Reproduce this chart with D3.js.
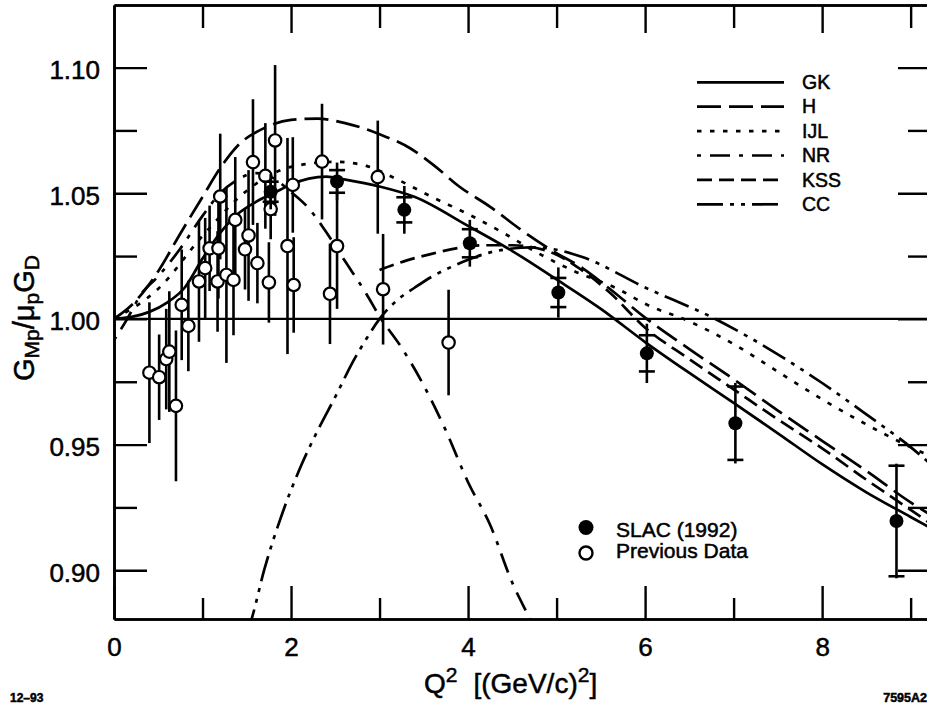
<!DOCTYPE html>
<html>
<head>
<meta charset="utf-8">
<script src="https://cdn.jsdelivr.net/npm/d3@7"></script>
<style>
  body { margin: 0; background: #fff; }
  svg { display: block; }
  text { font-family: "Liberation Sans", Arial, Helvetica, sans-serif; fill: #000; stroke: #000; stroke-width: 0.5px; }
</style>
</head>
<body>
<svg id="chart" width="927" height="710"></svg>
<script>
// ---- SLAC (1992) points: Q^2, ratio, statistical and total errors ----
const slacQ    = [1.77, 2.52, 3.28, 4.02, 5.02, 6.02, 7.02, 8.84];
const slacV    = [1.0506, 1.0547, 1.0434, 1.0301, 1.0105, 0.9863, 0.9585, 0.9196];
const slacStat = [0.0040, 0.0045, 0.0050, 0.0056, 0.0058, 0.0072, 0.0146, 0.0220];
const slacTot  = [0.0070, 0.0075, 0.0095, 0.0093, 0.0100, 0.0118, 0.0160, 0.0228];

// ---- Previous data ----
const prevQ   = [0.40, 0.51, 0.59, 0.625, 0.70, 0.765, 0.84, 0.96, 1.03, 1.08, 1.17, 1.18, 1.20, 1.27,
                 1.35, 1.37, 1.48, 1.52, 1.57, 1.62, 1.71, 1.75, 1.77, 1.82, 1.96, 2.02, 2.03, 2.35,
                 2.44, 2.52, 2.98, 3.04, 3.78];
const prevV   = [0.9786, 0.9768, 0.9840, 0.9870, 0.9654, 1.0056, 0.9972, 1.0149, 1.0202, 1.0281, 1.0149, 1.0281, 1.0487, 1.0175,
                 1.0155, 1.0394, 1.0277, 1.0332, 1.0624, 1.0222, 1.0569, 1.0145, 1.0437, 1.0710, 1.0290, 1.0533, 1.0135, 1.0626,
                 1.0100, 1.0290, 1.0564, 1.0118, 0.9906];
const prevErr = [0.028, 0.017, 0.020, 0.024, 0.030, 0.022, 0.018, 0.024, 0.020, 0.017, 0.020, 0.020, 0.025, 0.035,
                 0.022, 0.025, 0.016, 0.026, 0.025, 0.016, 0.021, 0.016, 0.012, 0.030, 0.043, 0.019, 0.019, 0.023,
                 0.020, 0.025, 0.0225, 0.022, 0.021];

// ---- Model curves ----
const gkQ = [0, 0.2, 0.4, 0.6, 0.8, 1.0, 1.2, 1.4, 1.6, 1.8, 2.0, 2.2, 2.4, 2.6, 3.0, 3.4, 4.0, 4.5, 5.0, 5.5, 6.0, 6.5, 7.0, 7.5, 8.0, 8.5, 9.0, 9.25];
const gkV = [1.0000, 1.0008, 1.0028, 1.0065, 1.0125, 1.0240, 1.0342, 1.0418, 1.0465, 1.0500, 1.0535, 1.0558, 1.0566, 1.0555,
             1.0527, 1.0485, 1.0370, 1.0270, 1.0157, 1.0040, 0.9908, 0.9785, 0.9666, 0.9545, 0.9422, 0.9310, 0.9212, 0.9163];

const hQ = [0, 0.2, 0.5, 0.75, 1.0, 1.2, 1.4, 1.7, 2.0, 2.3, 2.6, 3.0, 3.35, 3.6, 3.9, 4.25, 4.6, 4.95, 5.3, 5.6, 6.0, 6.5, 7.0, 7.5, 8.0, 8.5, 9.0, 9.25];
const hV = [1.0000, 1.0055, 1.0190, 1.0340, 1.0485, 1.0600, 1.0690, 1.0760, 1.0792, 1.0797, 1.0780, 1.0735, 1.0678, 1.0615,
            1.0527, 1.0446, 1.0354, 1.0272, 1.0200, 1.0120, 1.0005, 0.9880, 0.9760, 0.9635, 0.9515, 0.9395, 0.9270, 0.9215];

const ijlQ = [0, 0.5, 1.0, 1.5, 2.0, 2.5, 2.86, 3.2, 3.6, 4.0, 4.4, 4.8, 5.2, 5.7, 6.0, 6.5, 7.0, 7.5, 8.0, 8.5, 9.0, 9.25];
const ijlV = [1.0000, 1.0120, 1.0330, 1.0510, 1.0605, 1.0625, 1.0608, 1.0555, 1.0484, 1.0417, 1.0342, 1.0260, 1.0190, 1.0118,
              1.0060, 0.9990, 0.9900, 0.9790, 0.9680, 0.9580, 0.9490, 0.9450];

const nrQ = [0, 0.15, 0.3, 0.5, 0.75, 1.0, 1.2, 1.4, 1.6, 1.8, 2.0, 2.2, 2.35, 2.6, 2.85, 3.0, 3.25, 3.5, 3.75, 4.0, 4.25, 4.5, 4.7, 4.75];
const nrV = [0.9916, 1.0000, 1.0095, 1.0170, 1.0280, 1.0410, 1.0500, 1.0555, 1.0580, 1.0560, 1.0505, 1.0440, 1.0370, 1.0235,
             1.0100, 1.0010, 0.9885, 0.9735, 0.9555, 0.9350, 0.9180, 0.8950, 0.8806, 0.8770];

const kssQ = [3.0, 3.3, 3.6, 3.9, 4.2, 4.5, 4.9, 5.3, 5.6, 6.0, 6.5, 7.0, 7.5, 8.0, 8.5, 9.0, 9.25];
const kssV = [1.0195, 1.0232, 1.0260, 1.0283, 1.0293, 1.0293, 1.0270, 1.0190, 1.0105, 0.9965, 0.9840, 0.9720, 0.9600,
              0.9485, 0.9360, 0.9240, 0.9180];

const ccQ = [1.5, 1.55, 1.7, 1.9, 2.1, 2.3, 2.5, 2.7, 2.85, 3.0, 3.2, 3.4, 3.6, 3.8, 4.0, 4.2, 4.45, 4.7, 5.0, 5.3, 6.0, 6.77, 7.6, 8.0, 8.5, 9.0, 9.25];
const ccV = [0.8745, 0.8800, 0.9005, 0.9225, 0.9405, 0.9555, 0.9690, 0.9830, 0.9920, 1.0000, 1.0075, 1.0125, 1.0170, 1.0205,
             1.0235, 1.0260, 1.0278, 1.0285, 1.0275, 1.0245, 1.0125, 1.0004, 0.9837, 0.9745, 0.9620, 0.9490, 0.9415];

// ---- Axis ticks ----
const xMajor = [0, 2, 4, 6, 8];
const xMinor = [1, 3, 5, 7, 9];
const yMajor = [0.90, 0.95, 1.00, 1.05, 1.10];
const yMinor = [0.925, 0.975, 1.025, 1.075];

const modelNames = ["GK", "H", "IJL", "NR", "KSS", "CC"];

// ---- Layout ----
const svg = d3.select("#chart");
const plotL = 114, plotR = 931, plotT = 5, plotB = 619;

const x = d3.scaleLinear().domain([0, 9.23]).range([plotL, plotR]);
const y = d3.scaleLinear().domain([0.8806, 1.1249]).range([plotB, plotT]);

const models = [
  { name: "GK",  q: gkQ,  v: gkV,  dash: null },
  { name: "H",   q: hQ,   v: hV,   dash: "24,8" },
  { name: "IJL", q: ijlQ, v: ijlV, dash: "4.5,8.5" },
  { name: "NR",  q: nrQ,  v: nrV,  dash: "4,9,20,9" },
  { name: "KSS", q: kssQ, v: kssV, dash: "15,7" },
  { name: "CC",  q: ccQ,  v: ccV,  dash: "26,7,4,7,4,7" }
];

svg.append("defs").append("clipPath").attr("id", "plot-clip")
  .append("rect").attr("x", plotL).attr("y", plotT).attr("width", plotR - plotL).attr("height", plotB - plotT);

// reference line at unity
svg.append("line")
  .attr("x1", x(0)).attr("x2", x(9.23))
  .attr("y1", y(1)).attr("y2", y(1))
  .attr("stroke", "#000").attr("stroke-width", 2.2);

// model curves
const line = d3.line()
  .x(d => x(d[0])).y(d => y(d[1]))
  .curve(d3.curveMonotoneX);

const curveG = svg.append("g").attr("clip-path", "url(#plot-clip)");
models.forEach(m => {
  const pts = m.q.map((q, i) => [q, m.v[i]]);
  curveG.append("path")
    .datum(pts)
    .attr("d", line)
    .attr("fill", "none")
    .attr("stroke", "#000")
    .attr("stroke-width", 2.7)
    .attr("stroke-dasharray", m.dash);
});

// previous data: error bars then open circles
const prev = prevQ.map((q, i) => ({ q, v: prevV[i], e: prevErr[i] }));
const prevG = svg.append("g").attr("clip-path", "url(#plot-clip)");
prevG.selectAll("line.err").data(prev).join("line")
  .attr("class", "err")
  .attr("x1", d => x(d.q)).attr("x2", d => x(d.q))
  .attr("y1", d => y(d.v + d.e)).attr("y2", d => y(d.v - d.e))
  .attr("stroke", "#000").attr("stroke-width", 2.6);

// SLAC error bars with caps at the statistical error
const slac = slacQ.map((q, i) => ({ q, v: slacV[i], s: slacStat[i], t: slacTot[i] }));
const slacG = svg.append("g");
slacG.selectAll("line.tot").data(slac).join("line")
  .attr("class", "tot")
  .attr("x1", d => x(d.q)).attr("x2", d => x(d.q))
  .attr("y1", d => y(d.v + d.t)).attr("y2", d => y(d.v - d.t))
  .attr("stroke", "#000").attr("stroke-width", 2.6);
["up", "down"].forEach(side => {
  slacG.selectAll("line.cap-" + side).data(slac).join("line")
    .attr("class", "cap-" + side)
    .attr("x1", d => x(d.q) - 8).attr("x2", d => x(d.q) + 8)
    .attr("y1", d => y(side === "up" ? d.v + d.s : d.v - d.s))
    .attr("y2", d => y(side === "up" ? d.v + d.s : d.v - d.s))
    .attr("stroke", "#000").attr("stroke-width", 2.6);
});

prevG.selectAll("circle").data(prev).join("circle")
  .attr("cx", d => x(d.q)).attr("cy", d => y(d.v)).attr("r", 6.2)
  .attr("fill", "#fff").attr("stroke", "#000").attr("stroke-width", 2.2);

slacG.selectAll("circle").data(slac).join("circle")
  .attr("cx", d => x(d.q)).attr("cy", d => y(d.v)).attr("r", 7)
  .attr("fill", "#000");

// ---- Axes ----
function styleAxis(g) {
  g.selectAll("path.domain").attr("stroke", "#000").attr("stroke-width", 2.6);
  g.selectAll(".tick line").attr("stroke", "#000").attr("stroke-width", 2.4);
  g.selectAll(".tick text").attr("font-size", 26).attr("font-family", "Liberation Sans, Arial, sans-serif");
}

svg.append("g").attr("transform", `translate(0,${plotB})`)
  .call(d3.axisBottom(x).tickValues(xMajor).tickSize(-33).tickSizeOuter(0).tickPadding(19).tickFormat(d3.format("d")))
  .call(styleAxis);
svg.append("g").attr("transform", `translate(0,${plotB})`)
  .call(d3.axisBottom(x).tickValues(xMinor).tickSize(-21).tickSizeOuter(0).tickFormat(""))
  .call(styleAxis);

svg.append("g").attr("transform", `translate(0,${plotT})`)
  .call(d3.axisTop(x).tickValues(xMajor.filter(d => d > 0)).tickSize(-28).tickSizeOuter(0).tickFormat(""))
  .call(styleAxis);
svg.append("g").attr("transform", `translate(0,${plotT})`)
  .call(d3.axisTop(x).tickValues(xMinor).tickSize(-23).tickSizeOuter(0).tickFormat(""))
  .call(styleAxis);

svg.append("g").attr("transform", `translate(${plotL},0)`)
  .call(d3.axisLeft(y).tickValues(yMajor).tickSize(-33).tickSizeOuter(0).tickPadding(14).tickFormat(d3.format(".2f")))
  .call(styleAxis)
  .call(g => g.selectAll(".tick text").attr("dy", "0.42em"));
svg.append("g").attr("transform", `translate(${plotL},0)`)
  .call(d3.axisLeft(y).tickValues(yMinor).tickSize(-23).tickSizeOuter(0).tickFormat(""))
  .call(styleAxis);

svg.append("g").attr("transform", `translate(${plotR},0)`)
  .call(d3.axisRight(y).tickValues(yMajor).tickSize(-33).tickSizeOuter(0).tickFormat(""))
  .call(styleAxis);
svg.append("g").attr("transform", `translate(${plotR},0)`)
  .call(d3.axisRight(y).tickValues(yMinor).tickSize(-23).tickSizeOuter(0).tickFormat(""))
  .call(styleAxis);

// axis titles
const xt = svg.append("text").attr("x", 424).attr("y", 693).attr("font-size", 28);
xt.append("tspan").text("Q");
xt.append("tspan").attr("font-size", 21).attr("dy", -11).text("2");
xt.append("tspan").attr("dy", 11).attr("dx", 16).text("[(GeV/c)");
xt.append("tspan").attr("font-size", 21).attr("dy", -11).text("2");
xt.append("tspan").attr("dy", 11).text("]");

const yt = svg.append("text")
  .attr("transform", "translate(34,318) rotate(-90)")
  .attr("text-anchor", "middle").attr("font-size", 29);
yt.append("tspan").text("G");
yt.append("tspan").attr("font-size", 21).attr("dy", 5).text("Mp");
yt.append("tspan").attr("dy", -5).text("/μ");
yt.append("tspan").attr("font-size", 21).attr("dy", 5).text("p");
yt.append("tspan").attr("dy", -5).text("G");
yt.append("tspan").attr("font-size", 21).attr("dy", 5).text("D");

// ---- Model legend ----
const legG = svg.append("g");
models.forEach((m, i) => {
  const yy = 82.3 + i * 24.4;
  legG.append("line")
    .attr("x1", 697).attr("x2", 784).attr("y1", yy).attr("y2", yy)
    .attr("stroke", "#000").attr("stroke-width", 2.7)
    .attr("stroke-dasharray", m.dash);
  legG.append("text").attr("x", 802).attr("y", yy + 6.6)
    .attr("font-size", 19.5).text(modelNames[i]);
});

// ---- Data legend ----
svg.append("circle").attr("cx", 586).attr("cy", 527.5).attr("r", 7.5).attr("fill", "#000");
svg.append("circle").attr("cx", 586).attr("cy", 553).attr("r", 6.5)
  .attr("fill", "#fff").attr("stroke", "#000").attr("stroke-width", 2.4);
svg.append("text").attr("x", 616).attr("y", 536.5).attr("font-size", 21).text("SLAC (1992)");
svg.append("text").attr("x", 616).attr("y", 558).attr("font-size", 21).text("Previous Data");

// ---- Figure codes ----
svg.append("text").attr("x", 10).attr("y", 702).attr("font-size", 12).attr("font-weight", "bold").text("12–93");
svg.append("text").attr("x", 927).attr("y", 702).attr("text-anchor", "end")
  .attr("font-size", 12.5).attr("font-weight", "bold").text("7595A2");
</script>
</body>
</html>
